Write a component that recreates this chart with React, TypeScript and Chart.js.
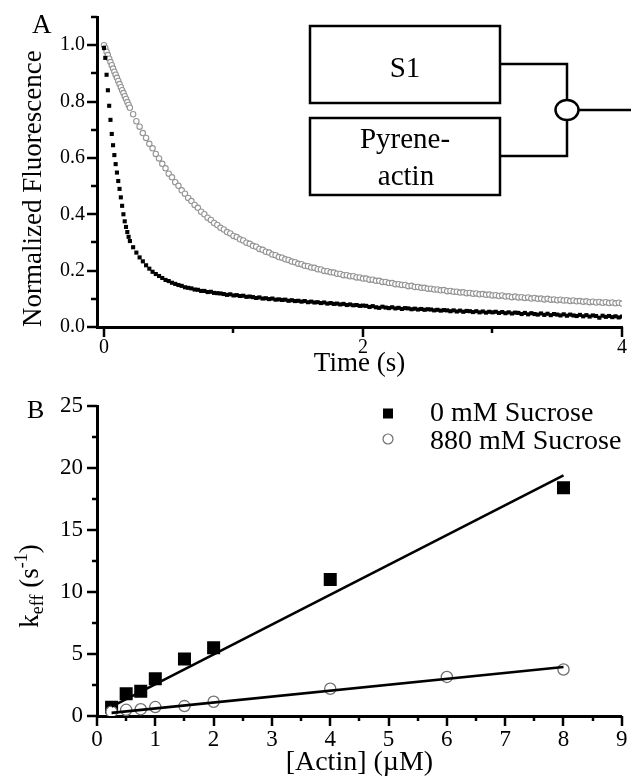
import React, { useEffect, useRef } from 'react';
import { Chart, registerables } from 'chart.js';

Chart.register(...registerables);

const FONT = "'Liberation Serif', 'Times New Roman', Times, serif";

// ---------- Panel A : normalized pyrene fluorescence transients ----------
const TIME_S = [
  0, 0.01, 0.02, 0.03, 0.04, 0.05, 0.06, 0.07, 0.08, 0.09, 0.1, 0.11, 0.12, 0.13, 0.14, 0.15, 0.16, 0.17, 0.18, 0.19, 0.2,
  0.225, 0.25, 0.275, 0.3, 0.325, 0.35, 0.375, 0.4, 0.425, 0.45, 0.475, 0.5, 0.525, 0.55, 0.575, 0.6,
  0.625, 0.65, 0.675, 0.7, 0.725, 0.75, 0.775, 0.8, 0.825, 0.85, 0.875, 0.9, 0.925, 0.95, 0.975, 1,
  1.025, 1.05, 1.075, 1.1, 1.125, 1.15, 1.175, 1.2, 1.225, 1.25, 1.275, 1.3, 1.325, 1.35, 1.375, 1.4,
  1.425, 1.45, 1.475, 1.5, 1.525, 1.55, 1.575, 1.6, 1.625, 1.65, 1.675, 1.7, 1.725, 1.75, 1.775, 1.8,
  1.825, 1.85, 1.875, 1.9, 1.925, 1.95, 1.975, 2,
  2.025, 2.05, 2.075, 2.1, 2.125, 2.15, 2.175, 2.2, 2.225, 2.25, 2.275, 2.3, 2.325, 2.35, 2.375, 2.4,
  2.425, 2.45, 2.475, 2.5, 2.525, 2.55, 2.575, 2.6, 2.625, 2.65, 2.675, 2.7, 2.725, 2.75, 2.775, 2.8,
  2.825, 2.85, 2.875, 2.9, 2.925, 2.95, 2.975, 3,
  3.025, 3.05, 3.075, 3.1, 3.125, 3.15, 3.175, 3.2, 3.225, 3.25, 3.275, 3.3, 3.325, 3.35, 3.375, 3.4,
  3.425, 3.45, 3.475, 3.5, 3.525, 3.55, 3.575, 3.6, 3.625, 3.65, 3.675, 3.7, 3.725, 3.75, 3.775, 3.8,
  3.825, 3.85, 3.875, 3.9, 3.925, 3.95, 3.975, 4,
];

// 0 mM sucrose trace (black squares)
const FAST_TRACE = [
  0.99, 0.955, 0.895, 0.84, 0.785, 0.735, 0.685, 0.645, 0.61, 0.578, 0.548, 0.518, 0.49, 0.46, 0.43, 0.4, 0.375, 0.355, 0.337, 0.32, 0.305,
  0.283, 0.264, 0.247, 0.233, 0.219, 0.207, 0.196, 0.188, 0.181, 0.174, 0.167, 0.163, 0.157, 0.153, 0.149, 0.146,
  0.141, 0.139, 0.137, 0.133, 0.132, 0.128, 0.128, 0.124, 0.125, 0.121, 0.12, 0.119, 0.117, 0.114, 0.116, 0.112,
  0.113, 0.11, 0.111, 0.107, 0.108, 0.106, 0.103, 0.105, 0.101, 0.102, 0.099, 0.101, 0.097, 0.098, 0.096, 0.097,
  0.093, 0.095, 0.092, 0.093, 0.09, 0.092, 0.088, 0.09, 0.087, 0.088, 0.085, 0.087, 0.083, 0.085, 0.082, 0.083,
  0.08, 0.082, 0.078, 0.08, 0.077, 0.078, 0.075, 0.076,
  0.075, 0.071, 0.074, 0.07, 0.068, 0.072, 0.069, 0.067, 0.07, 0.066, 0.068, 0.064, 0.067, 0.066, 0.063, 0.065,
  0.062, 0.064, 0.061, 0.063, 0.062, 0.059, 0.061, 0.058, 0.06, 0.059, 0.056, 0.059, 0.055, 0.058, 0.054, 0.057,
  0.056, 0.053, 0.056, 0.052, 0.055, 0.051, 0.054, 0.052,
  0.054, 0.05, 0.053, 0.049, 0.052, 0.048, 0.051, 0.05, 0.046, 0.05, 0.045, 0.049, 0.046, 0.044, 0.048, 0.043,
  0.047, 0.042, 0.046, 0.044, 0.041, 0.045, 0.04, 0.044, 0.041, 0.039, 0.043, 0.038, 0.042, 0.037, 0.041, 0.039,
  0.033, 0.04, 0.036, 0.039, 0.035, 0.038, 0.034, 0.037,
];

// 880 mM sucrose trace (grey open circles)
const SLOW_TRACE = [
  1.0, 0.99, 0.977, 0.965, 0.952, 0.94, 0.929, 0.917, 0.906, 0.895, 0.884, 0.873, 0.862, 0.851, 0.84, 0.83, 0.819, 0.809, 0.798, 0.788, 0.778,
  0.755, 0.73, 0.711, 0.688, 0.671, 0.65, 0.634, 0.614, 0.598, 0.579, 0.563, 0.544, 0.531, 0.514, 0.501, 0.485,
  0.473, 0.458, 0.447, 0.433, 0.423, 0.409, 0.4, 0.388, 0.38, 0.369, 0.362, 0.352, 0.346, 0.337, 0.332, 0.323,
  0.319, 0.311, 0.307, 0.299, 0.295, 0.288, 0.285, 0.277, 0.274, 0.267, 0.264, 0.257, 0.255, 0.248, 0.246, 0.24,
  0.238, 0.232, 0.23, 0.224, 0.223, 0.217, 0.216, 0.211, 0.21, 0.205, 0.204, 0.199, 0.198, 0.194, 0.193, 0.189,
  0.188, 0.184, 0.184, 0.18, 0.18, 0.176, 0.176, 0.172,
  0.172, 0.168, 0.168, 0.164, 0.164, 0.16, 0.16, 0.156, 0.156, 0.152, 0.152, 0.149, 0.149, 0.145, 0.146, 0.142,
  0.142, 0.139, 0.139, 0.136, 0.136, 0.133, 0.133, 0.13, 0.131, 0.127, 0.128, 0.125, 0.125, 0.122, 0.123, 0.12,
  0.121, 0.118, 0.119, 0.116, 0.117, 0.114, 0.115, 0.112,
  0.113, 0.11, 0.112, 0.108, 0.109, 0.106, 0.108, 0.105, 0.106, 0.103, 0.105, 0.101, 0.103, 0.1, 0.101, 0.098,
  0.1, 0.097, 0.098, 0.095, 0.097, 0.094, 0.095, 0.092, 0.094, 0.091, 0.092, 0.09, 0.091, 0.088, 0.09, 0.087,
  0.089, 0.086, 0.088, 0.085, 0.087, 0.084, 0.086, 0.083,
];

const A_X_TICKS = [0, 2, 4];
const A_X_TICK_LABELS = ['0', '2', '4'];
const A_X_MINOR = [1, 3];
const A_Y_TICKS = [0, 0.2, 0.4, 0.6, 0.8, 1.0];
const A_Y_TICK_LABELS = ['0.0', '0.2', '0.4', '0.6', '0.8', '1.0'];
const A_Y_MINOR = [0.1, 0.3, 0.5, 0.7, 0.9, 1.1];

// ---------- Panel B : k_eff vs [actin] ----------
const SERIES_LABELS = ['0 mM Sucrose', '880 mM Sucrose'];
const ACTIN_0 = [0.25, 0.5, 0.75, 1, 1.5, 2, 4, 8];
const KEFF_0 = [0.7, 1.8, 2.0, 3.0, 4.6, 5.5, 11.0, 18.4];
const ACTIN_880 = [0.25, 0.5, 0.75, 1, 1.5, 2, 4, 6, 8];
const KEFF_880 = [0.35, 0.5, 0.55, 0.72, 0.8, 1.15, 2.2, 3.15, 3.75];
const FIT_X = [0.25, 8];
const FIT_0 = [0.75, 19.4];
const FIT_880 = [0.25, 3.95];

const B_X_TICKS = [0, 1, 2, 3, 4, 5, 6, 7, 8, 9];
const B_X_TICK_LABELS = ['0', '1', '2', '3', '4', '5', '6', '7', '8', '9'];
const B_X_MINOR = [0.5, 1.5, 2.5, 3.5, 4.5, 5.5, 6.5, 7.5, 8.5];
const B_Y_TICKS = [0, 5, 10, 15, 20, 25];
const B_Y_TICK_LABELS = ['0', '5', '10', '15', '20', '25'];
const B_Y_MINOR = [2.5, 7.5, 12.5, 17.5, 22.5];

const zip = (xs: number[], ys: number[]) => xs.map((x, i) => ({ x, y: ys[i] }));

// draws outward major / minor tick marks through the chart's own scales
const tickMarks = {
  id: 'tickMarks',
  afterDraw(chart: any, _args: any, o: any) {
    const { ctx, chartArea: ca } = chart;
    const xs = chart.scales.x;
    const ys = chart.scales.y;
    ctx.save();
    ctx.strokeStyle = '#000';
    ctx.lineWidth = 2.5;
    const dx = (vals: number[], len: number) =>
      vals.forEach((v) => {
        const p = Math.round(xs.getPixelForValue(v));
        ctx.beginPath();
        ctx.moveTo(p, ca.bottom);
        ctx.lineTo(p, ca.bottom + len);
        ctx.stroke();
      });
    const dy = (vals: number[], len: number) =>
      vals.forEach((v) => {
        const p = Math.round(ys.getPixelForValue(v));
        ctx.beginPath();
        ctx.moveTo(ca.left, p);
        ctx.lineTo(ca.left - len, p);
        ctx.stroke();
      });
    dx(o.xMajor, o.major);
    dx(o.xMinor, o.minor);
    dy(o.yMajor, o.major);
    dy(o.yMinor, o.minor);
    ctx.restore();
  },
};

// legend drawn inside the plot, top-right, from the datasets themselves
const cornerLegend = {
  id: 'cornerLegend',
  afterDraw(chart: any, _args: any, o: any) {
    const { ctx, chartArea: ca } = chart;
    ctx.save();
    ctx.font = `${o.size}px ${FONT}`;
    ctx.textAlign = 'left';
    ctx.textBaseline = 'alphabetic';
    o.datasets.forEach((di: number, row: number) => {
      const ds = chart.data.datasets[di];
      const cy = ca.top + o.markerY[row];
      const mx = o.markerX;
      if (ds.pointStyle === 'rect') {
        ctx.fillStyle = ds.backgroundColor;
        ctx.fillRect(mx - o.half, cy - o.half, o.half * 2, o.half * 2);
      } else {
        ctx.beginPath();
        ctx.arc(mx, cy, o.half, 0, Math.PI * 2);
        ctx.fillStyle = '#fff';
        ctx.fill();
        ctx.lineWidth = 1.2;
        ctx.strokeStyle = ds.borderColor;
        ctx.stroke();
      }
      ctx.fillStyle = '#000';
      ctx.fillText(ds.label, o.textX, ca.top + o.baseline[row]);
    });
    ctx.restore();
  },
};

// rotated axis title with subscript / superscript
const richYTitle = {
  id: 'richYTitle',
  afterDraw(chart: any, _args: any, o: any) {
    const { ctx, chartArea: ca } = chart;
    ctx.save();
    let total = 0;
    o.parts.forEach((p: any) => {
      ctx.font = `${p.size}px ${FONT}`;
      total += ctx.measureText(p.text).width;
    });
    const cy = (ca.top + ca.bottom) / 2 + o.shift;
    ctx.translate(o.x, cy + total / 2);
    ctx.rotate(-Math.PI / 2);
    ctx.fillStyle = '#000';
    ctx.textAlign = 'left';
    ctx.textBaseline = 'alphabetic';
    let cx = 0;
    o.parts.forEach((p: any) => {
      ctx.font = `${p.size}px ${FONT}`;
      ctx.fillText(p.text, cx, p.dy);
      cx += ctx.measureText(p.text).width;
    });
    ctx.restore();
  },
};

const axisBase = (size: number, pad: number, ticks: number[], labels: string[]) => ({
  type: 'linear' as const,
  grid: { display: false, drawTicks: false },
  border: { display: true, color: '#000', width: 3 },
  afterBuildTicks: (s: any) => {
    s.ticks = ticks.map((v) => ({ value: v }));
  },
  ticks: {
    autoSkip: false,
    maxRotation: 0,
    minRotation: 0,
    padding: pad,
    color: '#000',
    font: { family: FONT, size },
    callback: (_v: any, i: number) => labels[i],
  },
});

export default function App() {
  const refA = useRef<HTMLCanvasElement | null>(null);
  const refB = useRef<HTMLCanvasElement | null>(null);

  useEffect(() => {
    if (!refA.current || !refB.current) return;

    const chartA = new Chart(refA.current, {
      type: 'scatter',
      data: {
        datasets: [
          {
            label: SERIES_LABELS[0],
            data: zip(TIME_S, FAST_TRACE),
            pointStyle: 'rect',
            pointRadius: 2.9,
            backgroundColor: '#000',
            borderWidth: 0,
            order: 0,
          },
          {
            label: SERIES_LABELS[1],
            data: zip(TIME_S, SLOW_TRACE),
            pointStyle: 'circle',
            pointRadius: 2.7,
            backgroundColor: '#fff',
            borderColor: '#959595',
            borderWidth: 1.1,
            order: 1,
          },
        ],
      },
      options: {
        animation: false,
        responsive: false,
        maintainAspectRatio: false,
        events: [],
        layout: { padding: { left: 0, right: 9, top: 17, bottom: 0 } },
        plugins: {
          legend: { display: false },
          tooltip: { enabled: false },
          tickMarks: { xMajor: A_X_TICKS, xMinor: A_X_MINOR, yMajor: A_Y_TICKS, yMinor: A_Y_MINOR, major: 10, minor: 6 },
        } as any,
        scales: {
          x: {
            ...axisBase(20, 9, A_X_TICKS, A_X_TICK_LABELS),
            min: -0.054,
            max: 4,
            afterFit: (s: any) => {
              s.height = 53;
              s.paddingLeft = 0;
              s.paddingRight = 0;
            },
            title: {
              display: true,
              text: 'Time (s)',
              color: '#000',
              font: { family: FONT, size: 27, lineHeight: 1 },
              padding: { top: 0, bottom: 3 },
            },
          },
          y: {
            ...axisBase(20, 12, A_Y_TICKS, A_Y_TICK_LABELS),
            min: 0,
            max: 1.1,
            afterFit: (s: any) => {
              s.width = 97;
              s.paddingTop = 0;
              s.paddingBottom = 0;
            },
            title: {
              display: true,
              text: 'Normalized Fluorescence',
              align: 'start',
              color: '#000',
              font: { family: FONT, size: 27 },
              padding: { top: 18, bottom: 0 },
            },
          },
        } as any,
      },
      plugins: [tickMarks],
    });

    const chartB = new Chart(refB.current, {
      type: 'scatter',
      data: {
        datasets: [
          {
            label: SERIES_LABELS[0],
            data: zip(ACTIN_0, KEFF_0),
            pointStyle: 'rect',
            pointRadius: 9.2,
            backgroundColor: '#000',
            borderWidth: 0,
            order: 3,
          },
          {
            label: SERIES_LABELS[1],
            data: zip(ACTIN_880, KEFF_880),
            pointStyle: 'circle',
            pointRadius: 5.6,
            backgroundColor: '#fff',
            borderColor: '#6e6e6e',
            borderWidth: 1.3,
            order: 2,
          },
          {
            label: 'fit 0 mM',
            data: zip(FIT_X, FIT_0),
            showLine: true,
            pointRadius: 0,
            borderColor: '#000',
            borderWidth: 2.6,
            order: 1,
          },
          {
            label: 'fit 880 mM',
            data: zip(FIT_X, FIT_880),
            showLine: true,
            pointRadius: 0,
            borderColor: '#000',
            borderWidth: 2.6,
            order: 0,
          },
        ],
      },
      options: {
        animation: false,
        responsive: false,
        maintainAspectRatio: false,
        events: [],
        layout: { padding: { left: 0, right: 8, top: 26, bottom: 0 } },
        plugins: {
          legend: { display: false },
          tooltip: { enabled: false },
          tickMarks: { xMajor: B_X_TICKS, xMinor: B_X_MINOR, yMajor: B_Y_TICKS, yMinor: B_Y_MINOR, major: 10, minor: 5 },
          cornerLegend: {
            datasets: [0, 1],
            size: 28,
            markerX: 388,
            textX: 430,
            half: 5,
            markerY: [7.5, 33],
            baseline: [15, 43],
          },
          richYTitle: {
            x: 38,
            shift: 25,
            parts: [
              { text: 'k', size: 27, dy: 0 },
              { text: 'eff', size: 18, dy: 5 },
              { text: ' (s', size: 27, dy: 0 },
              { text: '-1', size: 18, dy: -11 },
              { text: ')', size: 27, dy: 0 },
            ],
          },
        } as any,
        scales: {
          x: {
            ...axisBase(23, 10, B_X_TICKS, B_X_TICK_LABELS),
            min: 0,
            max: 9,
            afterFit: (s: any) => {
              s.height = 61;
              s.paddingLeft = 0;
              s.paddingRight = 0;
            },
            title: {
              display: true,
              text: '[Actin] (\u00b5M)',
              color: '#000',
              font: { family: FONT, size: 28, lineHeight: 1 },
              padding: { top: 0, bottom: 0 },
            },
          },
          y: {
            ...axisBase(23, 14, B_Y_TICKS, B_Y_TICK_LABELS),
            min: 0,
            max: 25,
            afterFit: (s: any) => {
              s.width = 97;
              s.paddingTop = 0;
              s.paddingBottom = 0;
            },
            title: { display: false },
          },
        } as any,
      },
      plugins: [tickMarks, cornerLegend, richYTitle],
    });

    return () => {
      chartA.destroy();
      chartB.destroy();
    };
  }, []);

  const stroke = { fill: 'none', stroke: '#000', strokeWidth: 2.5 };

  return (
    <div
      style={{
        position: 'fixed',
        left: 0,
        top: 0,
        width: 631,
        height: 777,
        background: '#fff',
        overflow: 'hidden',
      }}
    >
      <canvas
        ref={refA}
        width={631}
        height={380}
        style={{ position: 'absolute', left: 0, top: 0, width: 631, height: 380 }}
      />
      <canvas
        ref={refB}
        width={631}
        height={397}
        style={{ position: 'absolute', left: 0, top: 380, width: 631, height: 397 }}
      />
      <svg
        width={631}
        height={777}
        style={{ position: 'absolute', left: 0, top: 0, pointerEvents: 'none' }}
        fontFamily={FONT}
      >
        <text x={32} y={33} fontSize={27} fill="#000">A</text>
        <text x={27} y={418} fontSize={26} fill="#000">B</text>
        <rect x={310} y={26} width={190} height={77} fill="#fff" stroke="#000" strokeWidth={2.5} />
        <rect x={310} y={118} width={190} height={77} fill="#fff" stroke="#000" strokeWidth={2.5} />
        <polyline points="500,64 567,64 567,100" {...stroke} />
        <polyline points="567,120 567,156 500,156" {...stroke} />
        <ellipse cx={567} cy={110} rx={11.5} ry={10} {...stroke} />
        <line x1={578.5} y1={110} x2={631} y2={110} {...stroke} />
        <text x={405} y={77} fontSize={29} textAnchor="middle" fill="#000">S1</text>
        <text x={405} y={148} fontSize={29} textAnchor="middle" fill="#000">Pyrene-</text>
        <text x={406} y={185} fontSize={29} textAnchor="middle" fill="#000">actin</text>
      </svg>
    </div>
  );
}
